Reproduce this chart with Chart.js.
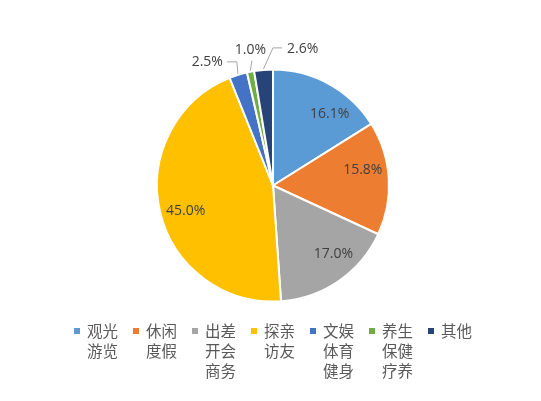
<!DOCTYPE html>
<html>
<head>
<meta charset="utf-8">
<script src="https://cdn.jsdelivr.net/npm/chart.js@4.4.0/dist/chart.umd.min.js"></script>
<style>
  html, body { margin:0; padding:0; background:#fff; }
  #wrap { position:relative; width:541px; height:401px; }
  #legend {
    position:absolute; left:74px; top:320px;
    display:flex; gap:15px;
    font-family:"Noto Sans CJK SC", sans-serif; font-size:15.5px; line-height:20px; color:#595959;
  }
  .item { display:flex; align-items:flex-start; }
  .box { width:6px; height:6px; margin-top:8px; margin-right:7px; flex:none; }
  .txt { white-space:pre; }
</style>
</head>
<body>
<div id="wrap">
  <canvas id="pie" width="541" height="401"></canvas>
  <div id="legend"></div>
</div>
<script>
// --- Data ---
const categories = ['观光\n游览', '休闲\n度假', '出差\n开会\n商务', '探亲\n访友', '文娱\n体育\n健身', '养生\n保健\n疗养', '其他'];
const shares = [16.1, 15.8, 17.0, 45.0, 2.5, 1.0, 2.6];
const colors = ['#5B9BD5', '#ED7D31', '#A5A5A5', '#FFC000', '#4472C4', '#70AD47', '#264478'];

// --- Legend (multi-line labels) ---
const legendEl = document.getElementById('legend');
categories.forEach((cat, i) => {
  const item = document.createElement('div');
  item.className = 'item';
  item.innerHTML = '<span class="box" style="background:' + colors[i] + '"></span><span class="txt">' + cat + '</span>';
  legendEl.appendChild(item);
});

// --- Percentage labels: inside for big slices, outside with leader lines for small ones ---
const pieLabels = {
  id: 'pieLabels',
  afterDatasetsDraw(chart, args, opts) {
    const ctx = chart.ctx;
    const meta = chart.getDatasetMeta(0);
    ctx.save();
    ctx.font = '14px "Open Sans", sans-serif';
    ctx.fillStyle = '#404040';
    ctx.textBaseline = 'middle';
    meta.data.forEach((arc, i) => {
      const p = arc.getProps(['x', 'y', 'startAngle', 'endAngle', 'outerRadius'], true);
      const mid = (p.startAngle + p.endAngle) / 2;
      const text = shares[i].toFixed(1) + '%';
      const out = opts.outside[i];
      if (!out) {
        // excel "best fit" sits a little off the middle of the slice
        const a = mid + (opts.nudge[i] || 0) * Math.PI / 180;
        const r = p.outerRadius * 0.785;
        ctx.textAlign = 'center';
        ctx.fillText(text, p.x + Math.cos(a) * r, p.y + Math.sin(a) * r);
        return;
      }
      // leader line from slice edge
      const ax = p.x + Math.cos(mid) * (p.outerRadius + 1);
      const ay = p.y + Math.sin(mid) * (p.outerRadius + 1);
      const ex = ax + out.elbow[0], ey = ay + out.elbow[1];
      const hx = ex + out.run;
      ctx.strokeStyle = '#A6A6A6';
      ctx.lineWidth = 1;
      ctx.beginPath();
      ctx.moveTo(ax, ay);
      ctx.lineTo(ex, ey);
      if (out.run) ctx.lineTo(hx, ey);
      ctx.stroke();
      ctx.textAlign = out.align;
      ctx.fillText(text, hx + out.text[0], ey + out.text[1]);
    });
    ctx.restore();
  }
};

new Chart(document.getElementById('pie'), {
  type: 'pie',
  data: {
    labels: categories,
    datasets: [{
      data: shares,
      backgroundColor: colors,
      borderColor: '#FFFFFF',
      borderWidth: 2
    }]
  },
  options: {
    responsive: false,
    animation: false,
    radius: 116,
    layout: { padding: { left: 10, right: 5, top: 60, bottom: 90 } },
    plugins: {
      legend: { display: false },
      tooltip: { enabled: false },
      pieLabels: {
        nudge: [9.5, -6, -7, -3.5],
        outside: {
          4: { elbow: [-1, -12], run: -10, text: [-4, 0], align: 'right' },
          5: { elbow: [1.5, -10], run: 0, text: [-1.5, -11], align: 'center' },
          6: { elbow: [9.5, -21], run: 9, text: [5, 1], align: 'left' }
        }
      }
    }
  },
  plugins: [pieLabels]
});
</script>
</body>
</html>
